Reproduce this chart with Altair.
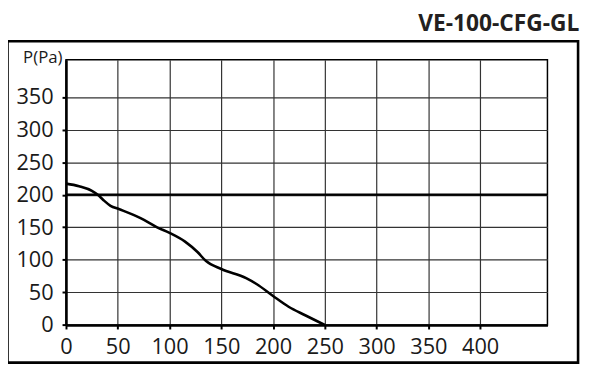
import altair as alt
import pandas as pd

# Data
flow = [0, 12.6, 25, 31, 36, 43, 51, 72, 88, 100, 115, 127, 135, 150, 174, 184, 200, 215, 231, 250]
pressure = [217, 213, 206, 199.5, 192, 183, 178, 164, 150, 141.5, 128, 112, 98.5, 86, 72, 63, 44.5, 28, 15, 0]
x_ticks = [0, 50, 100, 150, 200, 250, 300, 350, 400]
y_ticks = [0, 50, 100, 150, 200, 250, 300, 350]
ref_line = [200]
title_text = ["VE-100-CFG-GL"]
y_title = ["P(Pa)"]

FONT = "Open Sans"
INK = "#1a1a1a"

curve_df = pd.DataFrame({"q": flow, "p": pressure})

x_scale = alt.Scale(domain=[0, 465], nice=False, zero=False)
y_scale = alt.Scale(domain=[0, 407], nice=False, zero=False)

x_axis = alt.Axis(values=x_ticks, title=None, grid=True, gridColor="#333333", gridWidth=1.2,
                  domainColor="black", domainWidth=2.5, tickColor="black", tickWidth=2, tickSize=4,
                  labelFont=FONT, labelFontSize=22, labelColor=INK, labelPadding=8,
                  labelFlush=False, labelOverlap=False)
y_axis = alt.Axis(values=y_ticks, title=None, grid=True, gridColor="#333333", gridWidth=1.2,
                  domainColor="black", domainWidth=2.5, tickColor="black", tickWidth=2, tickSize=4,
                  labelFont=FONT, labelFontSize=22, labelColor=INK, labelPadding=9,
                  labelBaseline="middle", labelFlush=False, labelOverlap=False)

curve = alt.Chart(curve_df).mark_line(color="black", strokeWidth=2.6, interpolate="monotone").encode(
    x=alt.X("q:Q", scale=x_scale, axis=x_axis),
    y=alt.Y("p:Q", scale=y_scale, axis=y_axis),
)

rule = alt.Chart(pd.DataFrame({"p": ref_line})).mark_rule(color="black", strokeWidth=2.2).encode(
    y=alt.Y("p:Q", scale=y_scale, axis=y_axis)
)

frame = alt.Chart(pd.DataFrame({"a": [0]})).mark_rect(
    fill=None, stroke="black", strokeWidth=2.6, clip=False
).encode(x=alt.value(-59.2), x2=alt.value(518.3), y=alt.value(-18.8), y2=alt.value(306.5))

title = alt.Chart(pd.DataFrame({"t": title_text})).mark_text(
    font=FONT, fontSize=23, fontWeight="bold", color="#231f20", align="right", baseline="alphabetic"
).encode(text="t:N", x=alt.value(519.5), y=alt.value(-29.3))

ylab = alt.Chart(pd.DataFrame({"t": y_title})).mark_text(
    font=FONT, fontSize=17, color=INK, align="right", baseline="alphabetic"
).encode(text="t:N", x=alt.value(-3.5), y=alt.value(3.2))

chart = alt.layer(curve, rule, frame, title, ylab).properties(
    width=487.3,
    height=268.4,
    autosize=alt.AutoSizeParams(type="none"),
    padding={"left": 58.7, "top": 50.3, "right": 37, "bottom": 39},
    background="white",
).configure_view(stroke="black", strokeWidth=1.5)

chart.save("out.html", embed_options={"renderer": "svg", "actions": False})
